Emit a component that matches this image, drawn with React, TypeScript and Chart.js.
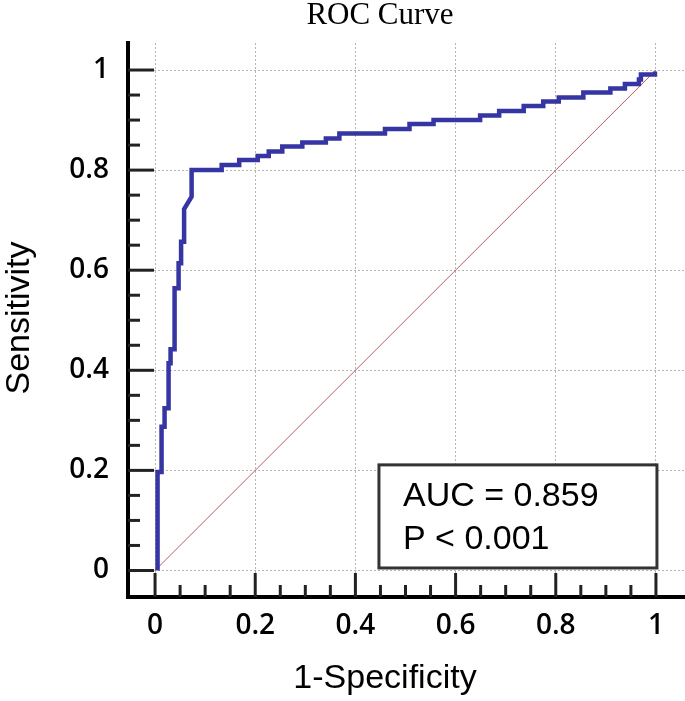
import React, { useEffect, useRef } from "react";
import { Chart, registerables } from "chart.js";

Chart.register(...registerables);

// ---- data ----
const CHART_TITLE = "ROC Curve";
const X_TITLE = "1-Specificity";
const Y_TITLE = "Sensitivity";
const TICK_LABELS = ["0", "0.2", "0.4", "0.6", "0.8", "1"];
const AUC_TEXT = "AUC = 0.859";
const P_TEXT = "P < 0.001";

// ROC curve vertices (1-Specificity, Sensitivity)
const ROC_FPR = [
  0.005, 0.005, 0.013, 0.013, 0.019, 0.019, 0.027, 0.027, 0.031, 0.031,
  0.039, 0.039, 0.047, 0.047, 0.052, 0.052, 0.058, 0.058, 0.073, 0.073,
  0.133, 0.133, 0.168, 0.168, 0.205, 0.205, 0.227, 0.227, 0.254, 0.254,
  0.294, 0.294, 0.341, 0.341, 0.368, 0.368, 0.459, 0.459, 0.508, 0.508,
  0.556, 0.556, 0.649, 0.649, 0.687, 0.687, 0.736, 0.736, 0.775, 0.775,
  0.806, 0.806, 0.855, 0.855, 0.909, 0.909, 0.938, 0.938, 0.966, 0.966,
  0.970, 0.970, 0.998, 0.998,
];
const ROC_TPR = [
  0.0, 0.197, 0.197, 0.287, 0.287, 0.324, 0.324, 0.414, 0.414, 0.442,
  0.442, 0.564, 0.564, 0.614, 0.614, 0.657, 0.657, 0.722, 0.747, 0.8,
  0.8, 0.81, 0.81, 0.82, 0.82, 0.828, 0.828, 0.837, 0.837, 0.847,
  0.847, 0.855, 0.855, 0.863, 0.863, 0.873, 0.873, 0.882, 0.882, 0.892,
  0.892, 0.9, 0.9, 0.909, 0.909, 0.918, 0.918, 0.928, 0.928, 0.937,
  0.937, 0.945, 0.945, 0.955, 0.955, 0.963, 0.963, 0.972, 0.972, 0.981,
  0.981, 0.991, 0.991, 0.997,
];
// reference (chance) line
const REF_X = [0, 1];
const REF_Y = [0, 1];

// ---- layout / style constants ----
const W = 685;
const H = 701;
const X_MIN = -0.054;
const X_MAX = 1.058;
const Y_MIN = -0.053;
const Y_MAX = 1.054;
const MINOR_STEP = 0.05;
const MINOR_COUNT = 20;
const BOX = { x0: 0.447, x1: 1.002, y0: 0.005, y1: 0.211 };

const tickValues = () => {
  const arr: { value: number }[] = [];
  for (let i = 0; i <= MINOR_COUNT; i++) arr.push({ value: +(i * MINOR_STEP).toFixed(2) });
  return arr;
};
const isMajor = (v: number) => Math.round(v / MINOR_STEP) % 4 === 0;
const labelFor = (v: number) => {
  const i = Math.round(v / MINOR_STEP);
  return i % 4 === 0 ? TICK_LABELS[i / 4] : "";
};

const innerTicks = {
  id: "innerTicks",
  beforeDatasetsDraw(chart: any) {
    const { ctx, chartArea, scales } = chart;
    const x = scales.x;
    const y = scales.y;
    ctx.save();
    ctx.strokeStyle = "#222";
    ctx.lineWidth = 3;
    for (const t of tickValues()) {
      const major = isMajor(t.value);
      const px = x.getPixelForValue(t.value);
      ctx.beginPath();
      ctx.moveTo(px, chartArea.bottom);
      ctx.lineTo(px, chartArea.bottom - (major ? 24 : 12));
      ctx.stroke();
      const py = y.getPixelForValue(t.value);
      ctx.beginPath();
      ctx.moveTo(chartArea.left, py);
      ctx.lineTo(chartArea.left + (major ? 26 : 12), py);
      ctx.stroke();
    }
    ctx.restore();
  },
};

const aucBox = {
  id: "aucBox",
  afterDatasetsDraw(chart: any) {
    const { ctx, scales } = chart;
    const x = scales.x;
    const y = scales.y;
    const l = x.getPixelForValue(BOX.x0);
    const r = x.getPixelForValue(BOX.x1);
    const t = y.getPixelForValue(BOX.y1);
    const b = y.getPixelForValue(BOX.y0);
    ctx.save();
    ctx.fillStyle = "#fff";
    ctx.fillRect(l, t, r - l, b - t);
    ctx.strokeStyle = "#333";
    ctx.lineWidth = 3;
    ctx.strokeRect(l, t, r - l, b - t);
    ctx.fillStyle = "#000";
    ctx.font = "34px 'Liberation Sans', Arial, sans-serif";
    ctx.textAlign = "left";
    ctx.textBaseline = "alphabetic";
    ctx.fillText(AUC_TEXT, l + 24, t + 41);
    ctx.fillText(P_TEXT, l + 24, t + 84);
    ctx.restore();
  },
};

const titles = {
  id: "titles",
  afterDraw(chart: any) {
    const { ctx } = chart;
    ctx.save();
    ctx.fillStyle = "#000";
    ctx.textBaseline = "alphabetic";
    ctx.textAlign = "center";
    ctx.font = "31px 'Liberation Serif', 'Times New Roman', serif";
    ctx.fillText(CHART_TITLE, 380, 24);
    ctx.font = "34px 'Liberation Sans', Arial, sans-serif";
    ctx.fillText(X_TITLE, 385, 688);
    ctx.translate(29, 318);
    ctx.rotate(-Math.PI / 2);
    ctx.fillText(Y_TITLE, 0, 0);
    ctx.restore();
  },
};

export default function App() {
  const ref = useRef<HTMLCanvasElement | null>(null);

  useEffect(() => {
    document.body.style.margin = "0";
    const canvas = ref.current;
    if (!canvas) return;
    const tickFont = {
      family: "'Open Sans', 'Noto Sans', sans-serif",
      size: 28,
      weight: "600",
      lineHeight: 1.2,
    };
    const gridColor = (c: any) =>
      c.tick && isMajor(c.tick.value) ? "#b4b4b4" : "rgba(0,0,0,0)";

    const chart = new Chart(canvas, {
      type: "scatter",
      data: {
        datasets: [
          {
            label: "ROC",
            data: ROC_FPR.map((v, i) => ({ x: v, y: ROC_TPR[i] })),
            showLine: true,
            borderColor: "#3535a3",
            backgroundColor: "#3535a3",
            borderWidth: 4.5,
            pointRadius: 0,
            tension: 0,
            borderJoinStyle: "miter",
          } as any,
          {
            label: "Reference",
            data: REF_X.map((v, i) => ({ x: v, y: REF_Y[i] })),
            showLine: true,
            borderColor: "#c45a5a",
            borderWidth: 1,
            pointRadius: 0,
          } as any,
        ],
      },
      options: {
        responsive: false,
        animation: false,
        devicePixelRatio: 1,
        layout: { padding: { top: 43, left: 0, right: 0, bottom: 0 } },
        plugins: {
          legend: { display: false },
          title: { display: false },
          tooltip: { enabled: false },
        },
        scales: {
          x: {
            type: "linear",
            min: X_MIN,
            max: X_MAX,
            afterBuildTicks: (s: any) => {
              s.ticks = tickValues();
            },
            afterFit: (s: any) => {
              s.height = 104;
            },
            ticks: {
              autoSkip: false,
              maxRotation: 0,
              minRotation: 0,
              padding: 12,
              color: "#000",
              font: tickFont,
              callback: (v: any) => labelFor(Number(v)),
            },
            grid: { color: gridColor, lineWidth: 1, drawTicks: false },
            border: { display: true, color: "#000", width: 4, dash: [2, 2] },
          },
          y: {
            type: "linear",
            min: Y_MIN,
            max: Y_MAX,
            afterBuildTicks: (s: any) => {
              s.ticks = tickValues();
            },
            afterFit: (s: any) => {
              s.width = 128;
            },
            ticks: {
              autoSkip: false,
              padding: 19,
              color: "#000",
              font: tickFont,
              callback: (v: any) => labelFor(Number(v)),
            },
            grid: { color: gridColor, lineWidth: 1, drawTicks: false },
            border: { display: true, color: "#000", width: 4, dash: [2, 2] },
          },
        },
      } as any,
      plugins: [innerTicks, aucBox, titles],
    });
    return () => chart.destroy();
  }, []);

  return (
    <div style={{ width: W, height: H, position: "relative", background: "#fff" }}>
      <canvas ref={ref} width={W} height={H} style={{ display: "block" }} />
    </div>
  );
}
